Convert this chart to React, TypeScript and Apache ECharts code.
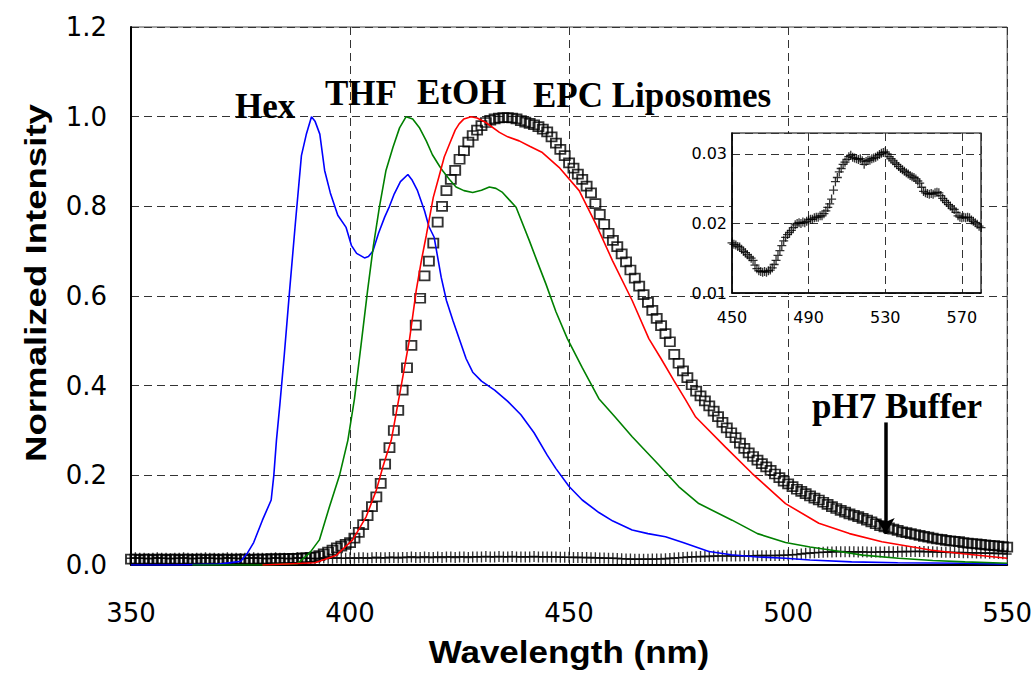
import React, { useEffect, useRef } from "react";
import * as echarts from "echarts";

// ---- Data ----
const hexWl = [350, 360, 370, 375, 376.6, 378, 380, 382, 382.6, 383.2, 384, 385, 386.2, 387.5, 388.9, 390, 391.2, 392, 393.1, 394.2, 395.5, 397.2, 399.1, 400.3, 401.5, 403.3, 404.2, 405.2, 406.5, 407.9, 409, 410.1, 411.5, 413.2, 414.2, 415.4, 417, 418, 419.2, 420.8, 422, 423.5, 424.9, 426.5, 428, 430, 433, 436, 439, 442, 445, 447, 450, 453, 456.8, 460, 464.4, 468, 472, 476, 481.9, 487, 493, 499.4, 505, 514.5, 525, 540, 550];
const hexVal = [0, 0, 0.002, 0.008, 0.027, 0.05, 0.1, 0.145, 0.2, 0.278, 0.36, 0.47, 0.612, 0.76, 0.913, 0.96, 1.0, 0.99, 0.961, 0.88, 0.83, 0.78, 0.753, 0.713, 0.695, 0.685, 0.688, 0.7, 0.74, 0.776, 0.8, 0.828, 0.855, 0.871, 0.858, 0.835, 0.79, 0.755, 0.731, 0.642, 0.59, 0.545, 0.505, 0.46, 0.43, 0.41, 0.39, 0.365, 0.335, 0.295, 0.245, 0.215, 0.175, 0.145, 0.117, 0.098, 0.078, 0.07, 0.063, 0.05, 0.03, 0.023, 0.018, 0.015, 0.011, 0.007, 0.005, 0.004, 0.002];

const thfWl = [364, 380, 388, 390.8, 393, 395.3, 397.6, 399.5, 401, 402.5, 404, 405.3, 406.7, 408.2, 409.8, 411.3, 412.8, 414.3, 415.8, 417.4, 418.8, 420.4, 421.1, 422.7, 424.2, 426, 428, 430, 431.8, 433.3, 434.8, 436.3, 437.9, 440.9, 442.8, 444.7, 447, 449.6, 453, 456.8, 460.5, 464.4, 470.5, 475, 479.6, 487.2, 493, 499.4, 505, 510, 517, 525.2, 533, 540.4, 550];
const thfVal = [0, 0, 0.003, 0.027, 0.056, 0.13, 0.2, 0.278, 0.37, 0.49, 0.612, 0.71, 0.798, 0.88, 0.932, 0.975, 1.0, 0.995, 0.976, 0.946, 0.915, 0.89, 0.88, 0.86, 0.843, 0.835, 0.831, 0.836, 0.843, 0.84, 0.831, 0.815, 0.798, 0.724, 0.675, 0.627, 0.565, 0.505, 0.44, 0.371, 0.33, 0.286, 0.223, 0.175, 0.137, 0.1, 0.07, 0.05, 0.04, 0.033, 0.022, 0.015, 0.01, 0.007, 0.004];

const etohWl = [380, 392, 396.9, 400.6, 403.7, 406, 407.5, 409.4, 411.5, 413.6, 415.1, 416.3, 417.4, 419, 420.4, 421.5, 422.7, 424, 424.9, 426, 427.6, 429, 431, 434.1, 436, 438.6, 441, 443.9, 447.7, 452.3, 456.1, 459.9, 464.4, 468.2, 471, 474, 476.5, 478.9, 485.7, 491.8, 499.4, 507, 514, 521.4, 532.8, 540, 550];
const etohVal = [0, 0.005, 0.022, 0.056, 0.108, 0.167, 0.219, 0.278, 0.39, 0.505, 0.612, 0.68, 0.735, 0.82, 0.87, 0.91, 0.939, 0.97, 0.984, 0.995, 1.0, 0.997, 0.987, 0.965, 0.955, 0.946, 0.934, 0.92, 0.887, 0.835, 0.761, 0.679, 0.59, 0.505, 0.46, 0.41, 0.37, 0.33, 0.263, 0.204, 0.137, 0.093, 0.07, 0.052, 0.033, 0.025, 0.015];

// EPC liposomes, one value per nm from 350 nm
const epcStart = 350;
const epcVal = [
  0.013, 0.013, 0.012, 0.013, 0.013, 0.012, 0.013, 0.013, 0.012, 0.013,
  0.013, 0.012, 0.013, 0.013, 0.012, 0.013, 0.013, 0.012, 0.013, 0.013,
  0.012, 0.013, 0.013, 0.012, 0.013, 0.013, 0.013, 0.012, 0.013, 0.013,
  0.013, 0.013, 0.014, 0.013, 0.014, 0.014, 0.014, 0.015, 0.015, 0.016,
  0.016, 0.017, 0.018, 0.021, 0.025, 0.029, 0.033, 0.038, 0.042, 0.046,
  0.05, 0.06, 0.073, 0.09, 0.11, 0.13, 0.152, 0.182, 0.225, 0.262,
  0.3, 0.345, 0.39, 0.44, 0.49, 0.535, 0.595, 0.645, 0.678, 0.718,
  0.765, 0.8, 0.835, 0.86, 0.88, 0.905, 0.924, 0.943, 0.958, 0.97,
  0.98, 0.987, 0.992, 0.995, 0.997, 0.998, 0.998, 0.997, 0.995, 0.991,
  0.988, 0.985, 0.982, 0.978, 0.972, 0.966, 0.955, 0.941, 0.927, 0.913,
  0.897, 0.885, 0.872, 0.86, 0.845, 0.83, 0.806, 0.782, 0.76, 0.74,
  0.724, 0.71, 0.694, 0.676, 0.658, 0.64, 0.622, 0.603, 0.586, 0.568,
  0.55, 0.534, 0.516, 0.498, 0.47, 0.45, 0.433, 0.418, 0.402, 0.388,
  0.377, 0.366, 0.355, 0.343, 0.331, 0.318, 0.306, 0.295, 0.284, 0.272,
  0.26, 0.25, 0.242, 0.234, 0.226, 0.219, 0.211, 0.203, 0.195, 0.187,
  0.181, 0.175, 0.169, 0.164, 0.159, 0.154, 0.149, 0.145, 0.14, 0.135,
  0.13, 0.126, 0.122, 0.118, 0.114, 0.111, 0.108, 0.104, 0.1, 0.096,
  0.092, 0.088, 0.085, 0.083, 0.08, 0.077, 0.074, 0.072, 0.07, 0.068,
  0.066, 0.064, 0.062, 0.06, 0.058, 0.057, 0.055, 0.054, 0.053, 0.052,
  0.05, 0.049, 0.048, 0.047, 0.046, 0.045, 0.044, 0.043, 0.042, 0.041,
  0.04,
];

// pH7 buffer, one value per nm from 350 nm to 580 nm
const bufStart = 350;
const bufVal = [
  0.015, 0.016, 0.015, 0.015, 0.014, 0.015, 0.016, 0.015, 0.015, 0.014,
  0.015, 0.015, 0.016, 0.015, 0.014, 0.015, 0.015, 0.016, 0.015, 0.015,
  0.014, 0.015, 0.016, 0.015, 0.015, 0.014, 0.015, 0.015, 0.016, 0.015,
  0.015, 0.014, 0.015, 0.016, 0.015, 0.015, 0.014, 0.015, 0.016, 0.015,
  0.015, 0.015, 0.014, 0.015, 0.016, 0.015, 0.015, 0.016, 0.015, 0.015,
  0.016, 0.015, 0.016, 0.016, 0.015, 0.016, 0.017, 0.016, 0.016, 0.017,
  0.017, 0.016, 0.017, 0.017, 0.018, 0.017, 0.017, 0.018, 0.017, 0.017,
  0.018, 0.017, 0.018, 0.018, 0.017, 0.018, 0.018, 0.017, 0.018, 0.018,
  0.018, 0.019, 0.018, 0.018, 0.019, 0.018, 0.018, 0.019, 0.018, 0.018,
  0.018, 0.018, 0.019, 0.018, 0.018, 0.018, 0.018, 0.018, 0.0175, 0.0173,
  0.0172, 0.017, 0.0169, 0.0167, 0.0166, 0.0163, 0.016, 0.0158, 0.0155, 0.0152,
  0.015, 0.0147, 0.014, 0.0135, 0.0132, 0.0131, 0.013, 0.0131, 0.013, 0.0132,
  0.0133, 0.0136, 0.0141, 0.0147, 0.0154, 0.0161, 0.0168, 0.0175, 0.018, 0.0184,
  0.0187, 0.019, 0.0194, 0.0198, 0.02, 0.0201, 0.02, 0.0202, 0.0201, 0.0203,
  0.0205, 0.0206, 0.0206, 0.0208, 0.0209, 0.0209, 0.0211, 0.0211, 0.0214, 0.0218,
  0.0223, 0.0228, 0.0235, 0.0248, 0.026, 0.0266, 0.0274, 0.0279, 0.0285, 0.0288,
  0.0292, 0.0296, 0.0298, 0.0295, 0.0294, 0.0293, 0.0292, 0.0293, 0.029, 0.0285,
  0.0289, 0.0291, 0.0291, 0.0293, 0.0294, 0.0295, 0.0297, 0.0299, 0.0301, 0.0302,
  0.0303, 0.03, 0.0296, 0.0293, 0.029, 0.0287, 0.0285, 0.0282, 0.0279, 0.0277,
  0.0275, 0.0273, 0.0271, 0.0269, 0.0267, 0.0266, 0.0264, 0.0261, 0.0258, 0.0252,
  0.0246, 0.0244, 0.0243, 0.0242, 0.0243, 0.0242, 0.0244, 0.0245, 0.0244, 0.024,
  0.0236, 0.0233, 0.023, 0.0227, 0.0225, 0.0222, 0.022, 0.0216, 0.0211, 0.0209,
  0.0208, 0.0209, 0.0208, 0.0209, 0.0208, 0.0205, 0.0203, 0.0201, 0.0199, 0.0196,
  0.0194,
];

const mainXMin = 350, mainXMax = 550, mainXStep = 50;
const mainYMin = 0, mainYMax = 1.2, mainYStep = 0.2;
const insetXStart = 450, insetXEnd = 580, insetXStep = 40;
const insetYMin = 0.01, insetYMax = 0.033, insetYStep = 0.01;

const labels = ["Hex", "THF", "EtOH", "EPC Liposomes", "pH7 Buffer"];
const arrowWl = 522.2;
const arrowFrom = 0.318;
const arrowTo = 0.069;

const pairs = (xs: number[], ys: number[]) => xs.map((x, i) => [x, ys[i]]);

export default function App() {
  const ref = useRef<HTMLDivElement>(null);
  useEffect(() => {
    const chart = echarts.init(ref.current!, null, { renderer: "svg" });
    const epcData = epcVal.map((v, i) => [epcStart + i, v]);
    const bufMain = bufVal
      .map((v, i) => [bufStart + i, v])
      .filter((d) => d[0] <= mainXMax);
    const bufInset = bufVal
      .map((v, i) => [bufStart + i, v])
      .filter((d) => d[0] >= insetXStart && d[0] <= insetXEnd)
      .map((d) => [d[0] - insetXStart, d[1]]);

    const tickFont = { fontFamily: "DejaVu Sans", color: "#000" };
    const dash = { color: "#333", width: 1, type: [8, 5] as any };
    const serifBold = {
      fontFamily: '"Liberation Serif", "Times New Roman", serif',
      fontWeight: "bold" as const,
      fontSize: 35,
      fill: "#000",
    };
    const plusPath = "path://M5,0L5,10M0,5L10,5";

    const option: any = {
      animation: false,
      backgroundColor: "#fff",
      grid: [
        { left: 131, top: 27, width: 878, height: 538, show: true, borderColor: "#444", borderWidth: 1 },
        { left: 732, top: 133, width: 249, height: 160, show: true, backgroundColor: "#fff", borderColor: "#000", borderWidth: 1.2, z: 5 },
      ],
      xAxis: [
        {
          gridIndex: 0, type: "value", min: mainXMin, max: mainXMax, interval: mainXStep,
          axisLine: { show: true, lineStyle: { color: "#000", width: 2 } },
          axisTick: { show: false },
          axisLabel: { ...tickFont, fontSize: 26, margin: 35 },
          splitLine: { show: true, lineStyle: dash },
        },
        {
          gridIndex: 1, type: "value", min: 0, max: insetXEnd - insetXStart, interval: insetXStep, z: 6,
          axisLine: { show: true, onZero: false, lineStyle: { color: "#000", width: 1.5 } },
          axisTick: { show: false },
          axisLabel: {
            ...tickFont, fontSize: 16, margin: 16, showMaxLabel: false,
            formatter: (v: number) => (v % insetXStep === 0 ? String(v + insetXStart) : ""),
          },
          splitLine: { show: true, lineStyle: dash },
        },
      ],
      yAxis: [
        {
          gridIndex: 0, type: "value", min: mainYMin, max: mainYMax, interval: mainYStep,
          axisLine: { show: true, lineStyle: { color: "#000", width: 2 } },
          axisTick: { show: false },
          axisLabel: { ...tickFont, fontSize: 26, margin: 24, formatter: (v: number) => v.toFixed(1) },
          splitLine: { show: true, lineStyle: dash },
        },
        {
          gridIndex: 1, type: "value", min: insetYMin, max: insetYMax, interval: insetYStep, z: 6,
          axisLine: { show: true, onZero: false, lineStyle: { color: "#000", width: 1.5 } },
          axisTick: { show: false },
          axisLabel: {
            ...tickFont, fontSize: 16, margin: 5, showMaxLabel: false,
            formatter: (v: number) => (v > 0.031 ? "" : v.toFixed(2)),
          },
          splitLine: { show: true, lineStyle: dash },
        },
      ],
      series: [
        {
          name: "Hex", type: "line", data: pairs(hexWl, hexVal), showSymbol: false,
          lineStyle: { color: "#0000ff", width: 1.6 }, itemStyle: { color: "#0000ff" },
        },
        {
          name: "THF", type: "line", data: pairs(thfWl, thfVal), showSymbol: false,
          lineStyle: { color: "#008000", width: 1.6 }, itemStyle: { color: "#008000" },
        },
        {
          name: "EtOH", type: "line", data: pairs(etohWl, etohVal), showSymbol: false,
          lineStyle: { color: "#ff0000", width: 1.6 }, itemStyle: { color: "#ff0000" },
        },
        {
          name: "EPC Liposomes", type: "scatter", data: epcData, symbol: "rect", symbolSize: [10, 9],
          itemStyle: { color: "rgba(0,0,0,0)", borderColor: "#000", borderWidth: 1.8 },
        },
        {
          name: "pH7 Buffer", type: "scatter", data: bufMain, symbol: plusPath, symbolSize: [9, 11],
          itemStyle: { color: "rgba(0,0,0,0)", borderColor: "#000", borderWidth: 1.5 },
          markLine: {
            silent: true, symbol: ["none", "arrow"], symbolSize: [14, 16],
            label: { show: false },
            lineStyle: { color: "#000", width: 3.5, type: "solid" },
            data: [[{ coord: [arrowWl, arrowFrom] }, { coord: [arrowWl, arrowTo] }]],
          },
        },
        {
          name: "pH7 Buffer (inset)", type: "scatter", xAxisIndex: 1, yAxisIndex: 1, z: 7,
          data: bufInset, symbol: plusPath, symbolSize: [9, 9],
          itemStyle: { color: "rgba(0,0,0,0)", borderColor: "#000", borderWidth: 1.3 },
        },
      ],
      graphic: [
        { type: "text", x: 235, y: 106, z: 10, style: { ...serifBold, text: labels[0], textAlign: "left", textVerticalAlign: "middle" } },
        { type: "text", x: 325, y: 93, z: 10, style: { ...serifBold, text: labels[1], textAlign: "left", textVerticalAlign: "middle" } },
        { type: "text", x: 417, y: 92, z: 10, style: { ...serifBold, text: labels[2], textAlign: "left", textVerticalAlign: "middle" } },
        { type: "text", x: 533, y: 95, z: 10, style: { ...serifBold, text: labels[3], textAlign: "left", textVerticalAlign: "middle" } },
        { type: "text", x: 812, y: 406, z: 10, style: { ...serifBold, text: labels[4], textAlign: "left", textVerticalAlign: "middle" } },
        {
          type: "text", x: 569, y: 652, scaleX: 1.094, z: 10,
          style: { text: "Wavelength (nm)", fontFamily: '"Liberation Sans", Arial, sans-serif', fontWeight: "bold", fontSize: 32, fill: "#000", textAlign: "center", textVerticalAlign: "middle" },
        },
        {
          type: "text", x: 36, y: 283, rotation: Math.PI / 2, scaleX: 1.22, z: 10,
          style: { text: "Normalized Intensity", fontFamily: '"Liberation Sans", Arial, sans-serif', fontWeight: "bold", fontSize: 30, fill: "#000", textAlign: "center", textVerticalAlign: "middle" },
        },
      ],
    };
    chart.setOption(option);
    return () => chart.dispose();
  }, []);
  return (
    <div
      ref={ref}
      style={{ position: "fixed", left: 0, top: 0, width: 1035, height: 677, background: "#fff" }}
    />
  );
}
